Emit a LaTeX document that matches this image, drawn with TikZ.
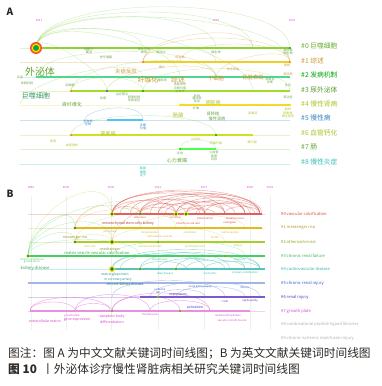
\documentclass[tikz,border=0pt]{standalone}
\usepackage{fontspec}
\setmainfont{Noto Sans CJK SC}
\usetikzlibrary{calc}
\definecolor{gA}{RGB}{120,205,60}
\definecolor{oA}{RGB}{205,150,50}
\definecolor{yA}{RGB}{240,220,40}
\definecolor{tA}{RGB}{80,215,140}
\definecolor{bA}{RGB}{50,130,200}
\definecolor{ylA}{RGB}{175,195,40}
\definecolor{cA}{RGB}{50,190,180}
\definecolor{kwA}{RGB}{110,165,80}
\definecolor{rB}{RGB}{215,70,60}
\definecolor{oB}{RGB}{215,170,40}
\definecolor{ygB}{RGB}{170,205,40}
\definecolor{gB}{RGB}{70,205,100}
\definecolor{cB}{RGB}{40,180,170}
\definecolor{bB}{RGB}{50,90,200}
\definecolor{pB}{RGB}{90,50,190}
\definecolor{mB}{RGB}{215,70,200}
\definecolor{grB}{RGB}{175,175,175}
\definecolor{yr}{RGB}{230,60,230}
\definecolor{cap}{RGB}{45,40,35}
\tikzset{
    track/.style={line width=0.9pt},
    ghost/.style={line width=0.3pt,opacity=0.25},
    link/.style={line width=0.35pt,opacity=0.35},
    linkB/.style={line width=0.35pt,opacity=0.5},
    clabel/.style={anchor=west,inner sep=0pt,font=\fontsize{5.8}{6}\selectfont},
    clabelB/.style={anchor=west,inner sep=0pt,font=\fontsize{3.5}{4}\selectfont},
    kw/.style={inner sep=0pt,align=center,font=\fontsize{2.6}{3}\selectfont},
    kwB/.style={inner sep=0pt,align=center,font=\fontsize{2.2}{2.5}\selectfont},
    yeartag/.style={inner sep=0pt,text=yr,font=\fontsize{2.4}{2.5}\selectfont},
    captext/.style={anchor=west,inner sep=0pt,text=cap,font=\fontsize{10}{10}\selectfont}
}

\begin{document}
\begin{tikzpicture}[x=0.03cm,y=-0.03cm]
\useasboundingbox (0,0) rectangle (381,386);
% ---- panel A: Chinese literature
\node[inner sep=0pt,font=\bfseries\fontsize{8.5}{9}\selectfont,text=black!85] (tagA) at (10,12) {A};
\foreach \x/\t [count=\i] in {39/2011,216/2019,292/2023}
    \node[yeartag] (ya\i) at (\x,20) {\t};
\foreach \y/\c in {48/gA,62/oA,77/tA,91/ylA,105/yA,120/bA,135/ylA,149/gA,164/cA}
    \draw[ghost,\c] (20,\y)--(290,\y);
% links
\foreach \xa/\ya/\xb/\yb/\h in {36/48/290/48/55,36/48/290/62/50,36/48/216/48/42,36/48/143/48/26,36/48/180/77/36,36/48/253/91/46,36/48/107/91/20,71/91/143/91/18,71/91/216/77/30,20/105/143/77/25,71/135/216/135/26,180/149/216/149/12,143/91/290/91/30,36/48/253/48/48,36/77/216/77/34}
    \draw[link,gA] (\xa,\ya) .. controls (\xa,\ya-\h) and (\xb,\yb-\h) .. (\xb,\yb);
\foreach \xa/\ya/\xb/\yb/\h in {143/62/290/62/32,143/62/216/62/20,180/62/290/62/24,143/62/253/48/28,107/91/216/77/22,216/77/290/62/18}
    \draw[link,oA] (\xa,\ya) .. controls (\xa,\ya-\h) and (\xb,\yb-\h) .. (\xb,\yb);
\draw[link,bA] (85,120) .. controls (85,108) and (143,100) .. (143,120);
% cluster tracks
\draw[track,gA!85!yellow] (36,48)--(290,48);
\draw[track,yA!85!orange] (143,62)--(290,62);
\draw[track,tA] (36,77)--(290,77);
\draw[track,gA!70!yellow] (71,91)--(290,91);
\draw[track,yA] (180,105)--(290,105);
\draw[track,cyan!70] (107,120)--(143,120);
\draw[track,yA!85!green] (71,135)--(253,135);
\draw[track,green!70] (180,149)--(216,149);
% hub and keyword dots
\foreach \r/\c in {6/red!75,5/orange,4/yellow,3/green!70!black,1.7/cyan!70!blue}
    \fill[\c] (36,48) circle[radius=\r*0.85pt];
\foreach \x/\y/\c in {143/62/orange,290/62/orange,71/91/orange,107/91/blue!70,143/91/green!70!black,290/48/green!70!black,71/135/orange,216/135/green!70!black,180/149/green!80!black,290/105/yellow!70!orange,180/105/yellow!80!orange}
    \fill[\c] (\x,\y) circle[radius=0.9pt];
% keywords
\foreach \x/\y/\c/\t/\s [count=\i] in {40/72/gA!80!black/外泌体/8.5,36/96/tA!70!black/巨噬细胞/6,148/80/oA/纤维化/5.8,178/80/oA/综述/5.8,126/71/oA/炎症反应/4.6,216/78/oA/干细胞/4.6,253/77/oA/肾脏表现/4.6,72/105/kwA/肾纤维化/4.3,108/134/ylA/肾疾病/4.3,178/115/ylA/肠菌/4.6,213/103/ylA/肾脏病/4.3,177/161/gA!80!black/心力衰竭/4.3,213/114/kwA/肾移植/3.6,217/119/kwA/慢性肾病/3.6}
    \node[inner sep=0pt,text=\c,font=\fontsize{\s}{\s}\selectfont] (kwa\i) at (\x,\y) {\t};
\foreach \x/\y/\c/\t [count=\i] in {89/51/kwA/{细胞外\\囊泡},106/57/kwA/{信号通路},144/51/kwA/{氧化应激\\损伤},161/52/kwA/{微RNA},180/57/oA/{标志物},162/67/kwA/{凋亡},162/80/kwA/{糖尿病},180/88/kwA/{肾脏损伤\\诊断价值\\生物学},20/77/kwA/{炎症},27/83/kwA/{发病机制},70/85/kwA/{足细胞},103/98/kwA/{自噬},122/94/kwA/{治疗靶点},134/99/kwA/{病理机制\\来源途径},216/52/kwA/{微生物},288/52/kwA/{肾移植\\标志物},233/69/oA/{信号转导},287/65/oA/{肾损},288/74/oA/{肾间质},270/81/kwA/{尿蛋白\\诊断},288/85/kwA/{生存},288/97/kwA/{肾功能},197/98/kwA/{蛋白尿},88/123/bA/{生物标\\志物},143/127/bA/{诊断\\价值},53/141/ylA/{肾病},72/145/ylA/{血液透析},180/153/kwA/{炎性},143/172/cA/{脂肪\\细胞\\因子},197/96/kwA/{肝脏},197/101/kwA/{免疫},196/108/kwA/{纤维},253/113/ylA/{尿毒症},288/113/ylA/{肌酐\\尿素氮\\再生医学},196/139/ylA/{miRNA},216/143/ylA/{钙磷代谢},252/142/ylA/{骨代谢},214/156/kwA/{心血管\\疾病\\风险}}
    \node[kw,text=\c] (kwb\i) at (\x,\y) {\t};
% cluster labels
\foreach \y/\c/\t [count=\i] in {46/gA!85!black/{\#0 巨噬细胞},61/oA/{\#1 综述},75/green!65!black/{\#2 发病机制},90/gA!75!black/{\#3 尿外泌体},104/ylA/{\#4 慢性肾病},118/bA/{\#5 慢性病},133/ylA/{\#6 血管钙化},147/gA!80!black/{\#7 肠},162/cA/{\#8 慢性炎症}}
    \node[clabel,text=\c] (cla\i) at (301,\y) {\t};
% ---- panel B: English literature
\node[inner sep=0pt,font=\bfseries\fontsize{8.5}{9}\selectfont,text=black!85] (tagB) at (10,194) {B};
\foreach \x/\t [count=\i] in {31/1996,66/2000,111/2006,158/2012,204/2017,250/2020,270/2022}{
    \node[yeartag] (yb\i) at (\x,187) {\t};
    \draw[ghost,black!25] (\x,196)--(\x,330);
}
\foreach \y/\c in {214/rB,228/oB,242/ygB,256/gB,269/cB,283/bB,297/pB,311/mB}
    \draw[ghost,\c] (28,\y)--(265,\y);
% links
\foreach \xa/\xb/\h in {112/260/32,112/225/28,140/260/28,140/205/20,158/245/24,176/260/22,176/225/16,186/245/18,112/176/18,140/186/14,205/260/16,158/205/14,112/140/10,225/260/10,186/225/12,176/205/8,112/245/30,130/250/26,150/262/27,120/200/20,165/235/17,196/255/14,140/176/9,186/215/7}
    \draw[linkB,rB] (\xa,214) .. controls (\xa,214-\h) and (\xb,214-\h) .. (\xb,214);
\foreach \xa/\ya/\xb/\yb/\h/\c in {28/256/112/242/35/gB,28/256/140/228/45/gB,28/256/75/242/20/gB,28/256/112/214/50/ygB,28/256/75/228/30/gB,75/228/112/214/18/oB,75/242/176/228/28/ygB,75/228/186/228/26/oB,112/242/225/242/20/ygB,140/228/245/228/18/oB,75/242/112/242/10/ygB,28/256/140/256/22/gB,112/256/245/256/20/gB,75/228/140/214/24/oB,112/242/176/214/26/rB}
    \draw[link,\c] (\xa,\ya) .. controls (\xa,\ya-\h) and (\xb,\yb-\h) .. (\xb,\yb);
\foreach \xa/\xb/\h in {112/260/26,112/205/20,140/245/22,158/225/14,176/260/18,186/245/12,205/260/10,140/186/10,120/230/22}
    \draw[linkB,cB] (\xa,269) .. controls (\xa,269-\h) and (\xb,269-\h) .. (\xb,269);
\foreach \xa/\xb/\h in {150/260/20,176/245/14,158/205/10,112/225/22}
    \draw[link,bB] (\xa,297) .. controls (\xa,297-\h) and (\xb,297-\h) .. (\xb,297);
\foreach \xa/\xb/\h in {30/110/18,75/150/22,112/180/20,75/112/10,30/75/12,150/210/14,112/210/24}
    \draw[linkB,mB] (\xa,311) .. controls (\xa,311-\h) and (\xb,311-\h) .. (\xb,311);
% cluster tracks
\draw[track,rB!85] (112,214)--(262,214);
\draw[track,oB!80!yellow] (75,228)--(262,228);
\draw[track,ygB] (75,242)--(265,242);
\draw[track,gB] (28,256)--(265,256);
\draw[track,cB!80] (112,269)--(265,269);
\draw[track,bB!45] (28,283)--(265,283);
\draw[track,pB!80] (140,297)--(265,297);
\draw[track,mB!60] (30,311)--(250,311);
% hubs
\foreach \x/\y/\s in {112/214/1.7,140/214/1.4,176/214/1.8,186/214/1.8,75/228/1.4,75/242/1.4,112/242/2.2,158/242/1.2,28/256/1.6,112/269/2.6,140/269/1.3,176/269/1.3,225/256/1.2,158/297/1.2,112/311/1.2,180/311/1.2}{
    \fill[yellow!80!orange] (\x,\y) circle[radius=\s*1pt];
    \fill[green!65!black] (\x,\y) circle[radius=\s*0.65pt];
    \fill[blue!70!cyan] (\x,\y) circle[radius=\s*0.35pt];
}
% keywords
\foreach \x/\y/\c/\t/\s [count=\i] in {128/224/rB!80!black/{mesenchymal stem cells kidney}/3,75/238/oB!80!black/{messenger rna}/3,110/249/ygB!70!black/{mechanism}/3,97/253/gB!80!black/{matrix vesicle vascular calcification}/3.4,35/268/gB!80!black/{kidney disease}/3.6,115/275/cB!80!black/{matrix gla protein}/2.8,118/280/cB!80!black/{in coronary artery}/2.8,125/285/cB!70!black/{chronic kidney disease}/3,195/307/pB/{activation}/3,178/295/pB/{expression}/3,45/321/mB/{extracellular matrix}/3,77/320/mB/{gene expression}/3,112/317/mB/{apoptotic body}/3,112/322/mB/{differentiation}/3}
    \node[inner sep=0pt,text=\c,font=\fontsize{\s}{\s}\selectfont] (kwc\i) at (\x,\y) {\t};
\foreach \x/\y/\c/\t [count=\i] in {140/218/rB/exosomes,175/218/rB/microrna,205/218/rB/inflammation,235/218/rB/{oxidative stress},188/223/rB/{smooth muscle cells},230/223/rB/{osteogenic},110/232/oB/phosphate,150/232/oB/mineralization,190/232/oB/osteoblast,230/232/oB/{matrix vesicles},160/236/oB/{extracellular vesicles},215/237/oB/{klotho},150/246/ygB/{arterial calcification},195/246/ygB/{endothelial cells},238/246/ygB/{plaque},90/246/ygB/{stem cells},32/259/gB/{chronic renal failure},32/262/gB/{growth factor},160/260/gB/{hemodialysis},200/260/gB/{uremia},240/260/gB/{mortality},165/273/cB/{heart disease},210/273/cB/{risk factors},245/273/cB/{coronary calcification},200/287/bB/{acute kidney injury},245/287/bB/{fibrosis},160/289/bB/{ischemia},158/292/pB/cell,225/301/pB/{t cells},250/301/pB/{nephropathy},72/316/mB/{growth plate},150/315/mB/{chondrocytes},228/316/mB/{alkaline phosphatase},232/320/mB/{vascular smooth muscle}}
    \node[kwB,text=\c] (kwd\i) at (\x,\y) {\t};
% cluster labels
\foreach \y/\c/\t [count=\i] in {214/rB/{\#0 vascular calcification},228/oB!85!black/{\#1 messenger rna},242/ygB!80!black/{\#2 atherosclerosis},256/gB!85!black/{\#3 chronic renal failure},269/cB/{\#4 cardiovascular disease},283/bB/{\#5 chronic renal injury},297/pB/{\#6 renal injury},311/mB/{\#7 growth plate},324/grB/{\#8 combinatorial peptide ligand libraries},338/grB/{\#9 chronic ischemic reperfusion injury}}
    \node[clabelB,text=\c] (clb\i) at (281,\y) {\t};
% ---- caption
\node[captext] (note) at (8,353) {图注：图 A 为中文文献关键词时间线图；B 为英文文献关键词时间线图};
\node[captext] (title) at (8,369) {\textbf{图 10} \ 丨外泌体诊疗慢性肾脏病相关研究关键词时间线图};
\end{tikzpicture}
\end{document}
